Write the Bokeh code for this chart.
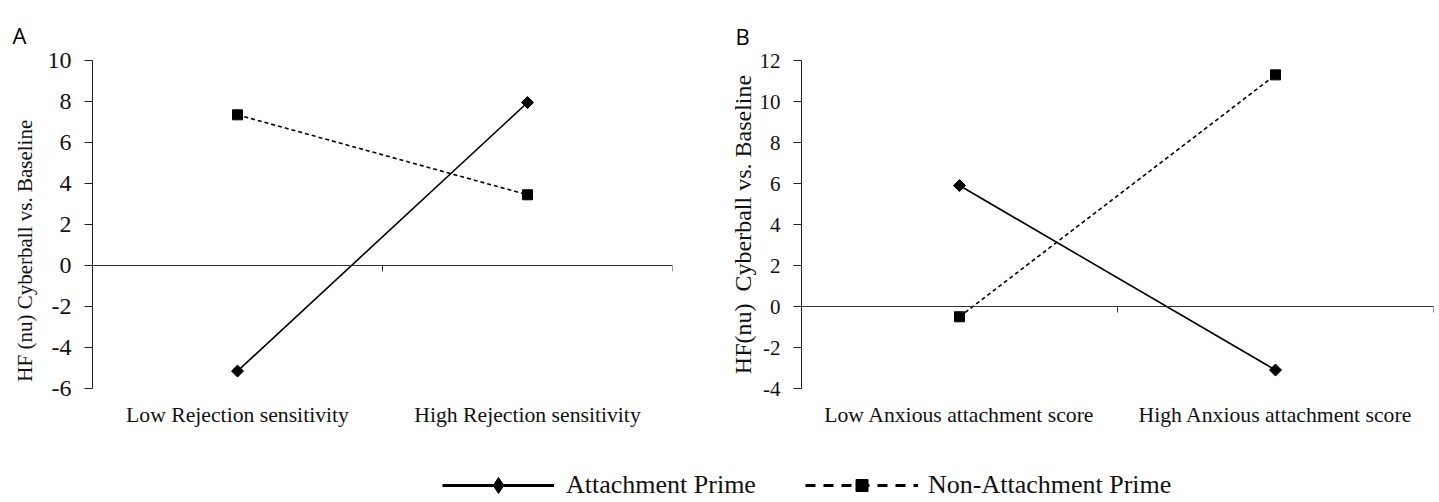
import math
from bokeh.plotting import figure
from bokeh.models import Range1d, FixedTicker, LinearAxis, Legend, LegendItem
from bokeh.layouts import column, row
from bokeh.embed import file_html
from bokeh.resources import INLINE

# ---------------- data ----------------
categories_a = ["Low Rejection sensitivity", "High Rejection sensitivity"]
categories_b = ["Low Anxious attachment score", "High Anxious attachment score"]
series_names = ["Attachment Prime", "Non-Attachment Prime"]
attach_a = [-5.15, 7.95]
nonattach_a = [7.35, 3.45]
attach_b = [5.9, -3.1]
nonattach_b = [-0.5, 11.3]
yticks_a = [-6, -4, -2, 0, 2, 4, 6, 8, 10]
yticks_b = [-4, -2, 0, 2, 4, 6, 8, 10, 12]
ylabel_a = "HF (nu) Cyberball vs. Baseline"
ylabel_b = "HF(nu)\u00a0 Cyberball vs. Baseline"
panel_letters = ["A", "B"]

SERIF = "Liberation Serif"
SANS = "Open Sans"


def make_panel(width, left, right, top, bottom, cats, s_att, s_non, yticks,
               ylabel, letter, tick_font, title_font, title_standoff, label_pad,
               letter_offset, letter_standoff):
    n = len(cats)
    xs = [i + 0.5 for i in range(n)]
    p = figure(width=width, height=448, output_backend="svg", toolbar_location=None,
               x_range=Range1d(0, n), y_range=Range1d(yticks[0], yticks[-1]),
               min_border_left=left, min_border_right=right,
               min_border_top=top, min_border_bottom=bottom,
               x_axis_location=None, y_axis_location=None)
    p.grid.visible = False
    p.outline_line_color = None
    p.background_fill_color = "white"
    p.border_fill_color = "white"

    p.title.text = letter
    p.title.align = "left"
    p.title.offset = letter_offset
    p.title.standoff = letter_standoff
    p.title.text_font = SANS
    p.title.text_font_size = "22px"
    p.title.text_font_style = "normal"
    p.title.text_color = "black"

    yax = LinearAxis(ticker=FixedTicker(ticks=yticks),
                     axis_label=ylabel + "\u00a0" * label_pad)
    yax.major_label_overrides = {t: str(t) for t in yticks}
    yax.axis_line_color = "#222222"
    yax.major_tick_line_color = "#222222"
    yax.major_tick_in = 0
    yax.major_tick_out = 8
    yax.minor_tick_line_color = None
    yax.major_label_text_font = SERIF
    yax.major_label_text_font_size = tick_font
    yax.major_label_text_color = "#111111"
    yax.major_label_standoff = 13
    yax.axis_label_text_font = SERIF
    yax.axis_label_text_font_size = title_font
    yax.axis_label_text_font_style = "normal"
    yax.axis_label_text_color = "#111111"
    yax.axis_label_standoff = title_standoff
    p.add_layout(yax, "left")

    zax = LinearAxis(ticker=FixedTicker(ticks=list(range(n + 1))), fixed_location=0)
    zax.axis_line_color = "#333333"
    zax.major_tick_line_color = "#333333"
    zax.major_tick_in = 0
    zax.major_tick_out = 6
    zax.minor_tick_line_color = None
    zax.major_label_overrides = {i: "" for i in range(n + 1)}
    zax.major_label_text_font_size = "1px"
    p.add_layout(zax, "below")

    cax = LinearAxis(ticker=FixedTicker(ticks=xs))
    cax.major_label_overrides = {x: c for x, c in zip(xs, cats)}
    cax.axis_line_color = None
    cax.major_tick_line_color = None
    cax.minor_tick_line_color = None
    cax.major_label_text_font = SERIF
    cax.major_label_text_font_size = "21.7px"
    cax.major_label_text_color = "#111111"
    cax.major_label_standoff = 8
    p.add_layout(cax, "below")

    p.line(xs, s_non, line_color="black", line_width=1.6, line_dash="4 3")
    p.line(xs, s_att, line_color="black", line_width=1.6)
    p.scatter(xs, s_non, marker="square", size=10, color="black")
    p.scatter(xs, s_att, marker="square", angle=math.pi / 4, size=8.5, color="black")
    return p


pa = make_panel(725, 92, 53, 60, 57, categories_a, attach_a, nonattach_a, yticks_a,
                ylabel_a, panel_letters[0], "24px", "21px", 8, 10, -80, 22)
pb = make_panel(714, 76, 6, 58, 60, categories_b, attach_b, nonattach_b, yticks_b,
                ylabel_b, panel_letters[1], "21px", "24px", 1, 0, -66, 20)

# ---------------- legend strip ----------------
pl = figure(width=1439, height=54, output_backend="svg", toolbar_location=None,
            x_range=Range1d(100, 101), y_range=Range1d(100, 101),
            min_border_left=0, min_border_right=0, min_border_top=0, min_border_bottom=0,
            x_axis_location=None, y_axis_location=None)
pl.grid.visible = False
pl.outline_line_color = None
xs_leg = [0.5, 1.5]
l1 = pl.line(xs_leg, attach_a, line_color="black", line_width=3, visible=False)
m1 = pl.scatter(xs_leg, attach_a, marker="diamond", size=16, color="black",
                visible=False)
l2 = pl.line(xs_leg, nonattach_a, line_color="black", line_width=3, line_dash="10 8",
             visible=False)
m2 = pl.scatter(xs_leg, nonattach_a, marker="square", size=12, color="black",
                visible=False)

common = dict(orientation="horizontal", padding=0, margin=0, border_line_color=None,
              background_fill_alpha=0, label_text_font=SERIF,
              label_text_font_size="26px", label_text_color="#111111")
legend1 = Legend(items=[LegendItem(label=series_names[0], renderers=[l1, m1])],
                 location=(442, -3), glyph_width=112, glyph_height=40,
                 label_standoff=12, **common)
legend2 = Legend(items=[LegendItem(label=series_names[1], renderers=[l2, m2])],
                 location=(805, 2), glyph_width=113, glyph_height=30,
                 label_standoff=10, **common)
pl.add_layout(legend1)
pl.add_layout(legend2)

layout = column(row(pa, pb), pl)
open("out.html", "w").write(file_html(layout, INLINE))
